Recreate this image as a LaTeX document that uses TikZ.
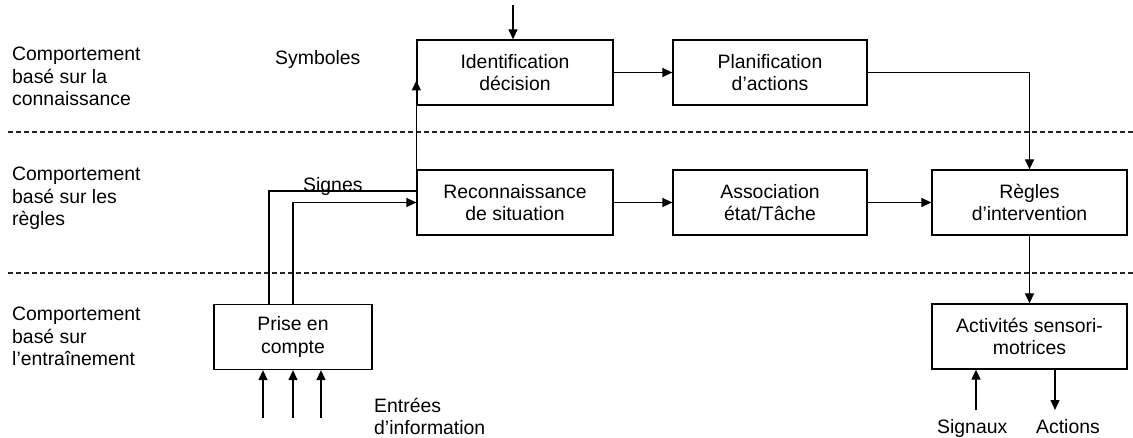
\documentclass[tikz,border=0pt]{standalone}
\usepackage{fontspec}
\setmainfont{Liberation Sans}
\usepackage{tikz}
\usetikzlibrary{shapes.geometric, arrows.meta}
\tikzstyle{arrow} = [line width=1.3pt,->,>={Triangle[length=10pt,width=9pt]}]
\tikzstyle{bloc} = [draw, line width=1.3pt, minimum width=196pt, minimum height=65pt, align=center, inner sep=0pt]
\tikzstyle{niveau} = [anchor=north west, align=left, inner sep=0pt]
\tikzstyle{etiquette} = [anchor=base west, inner sep=0pt]
\tikzstyle{separation} = [line width=1.1pt, draw=black!85, dash pattern=on 5pt off 3pt]

\begin{document}
\begin{tikzpicture}[x=1pt,y=-1pt]
			\useasboundingbox (0,0) rectangle (1133,438);
			\begin{scope}[font=\fontsize{19.4}{22.5}\selectfont]
			
			% Niveaux de comportement:
			% Le texte a gauche, une ligne par niveau
			\node[niveau] (connais) at (12,47) {Comportement\\basé sur la\\connaissance};
			\node[niveau] (regl) at (12,167) {Comportement\\basé sur les\\règles};
			\node[niveau] (entrain) at (12,307) {Comportement\\basé sur\\l’entraînement};
			
			% Separations:
			\draw[separation] (8,132) -- (1133,132);
			\draw[separation] (8,273) -- (1133,273);
			
			% Blocs:
			\node[bloc] (ident) at (515,72.5) {Identification\\décision};
			\node[bloc, minimum width=194pt] (plan) at (770,72.5) {Planification\\d’actions};
			\node[bloc] (recon) at (515,202.5) {Reconnaissance\\de situation};
			\node[bloc, minimum width=194pt] (assoc) at (770,202.5) {Association\\état/Tâche};
			\node[bloc, minimum width=195pt] (regles) at (1029.5,202.5) {Règles\\d’intervention};
			\node[bloc, minimum width=158pt] (prise) at (293,337) {Prise en\\compte};
			\node[bloc, minimum width=195pt] (activ) at (1029.5,336.5) {Activités sensori-\\motrices};
			
			% Etiquettes:
			\node[etiquette] (symb) at (275,65) {Symboles};
			\node[etiquette] (signes) at (303,192) {Signes};
			\node[niveau] (entrees) at (374,398) {Entrées\\d’information};
			\node[etiquette] (signaux) at (937,433) {Signaux};
			\node[etiquette] (actions) at (1036,433) {Actions};
			
			% Fleches:
			\coordinate (haut) at (513,5);
			\draw[arrow] (haut) -- (haut |- ident.north);
			\draw[arrow] (ident) -- (plan);
			\draw[arrow] (plan.east) -| (regles.north);
			\draw[arrow] (recon) -- (assoc);
			\draw[arrow] (assoc) -- (regles);
			\draw[arrow] (regles) -- (activ);
			
			% Signes vers les symboles et la reconnaissance:
			\path (recon.west) ++(0,-11.5) coordinate (coude);
			\draw[arrow] ([xshift=-24pt]prise.north) |- (coude) -- ([yshift=-8pt]ident.west);
			\draw[arrow] (prise.north) |- (recon.west);
			
			% Entrees d'information:
			\foreach \dx in {-30,0,28}
			{
				\draw[arrow] ([xshift=\dx pt,yshift=-48pt]prise.south) -- ([xshift=\dx pt]prise.south);
			}
			
			% Signaux et actions:
			\coordinate (capteur) at (976,410);
			\coordinate (effecteur) at (1055,410);
			\draw[arrow] (capteur) -- (capteur |- activ.south);
			\draw[arrow] (effecteur |- activ.south) -- (effecteur);
			
			\end{scope}
\end{tikzpicture}
\end{document}
